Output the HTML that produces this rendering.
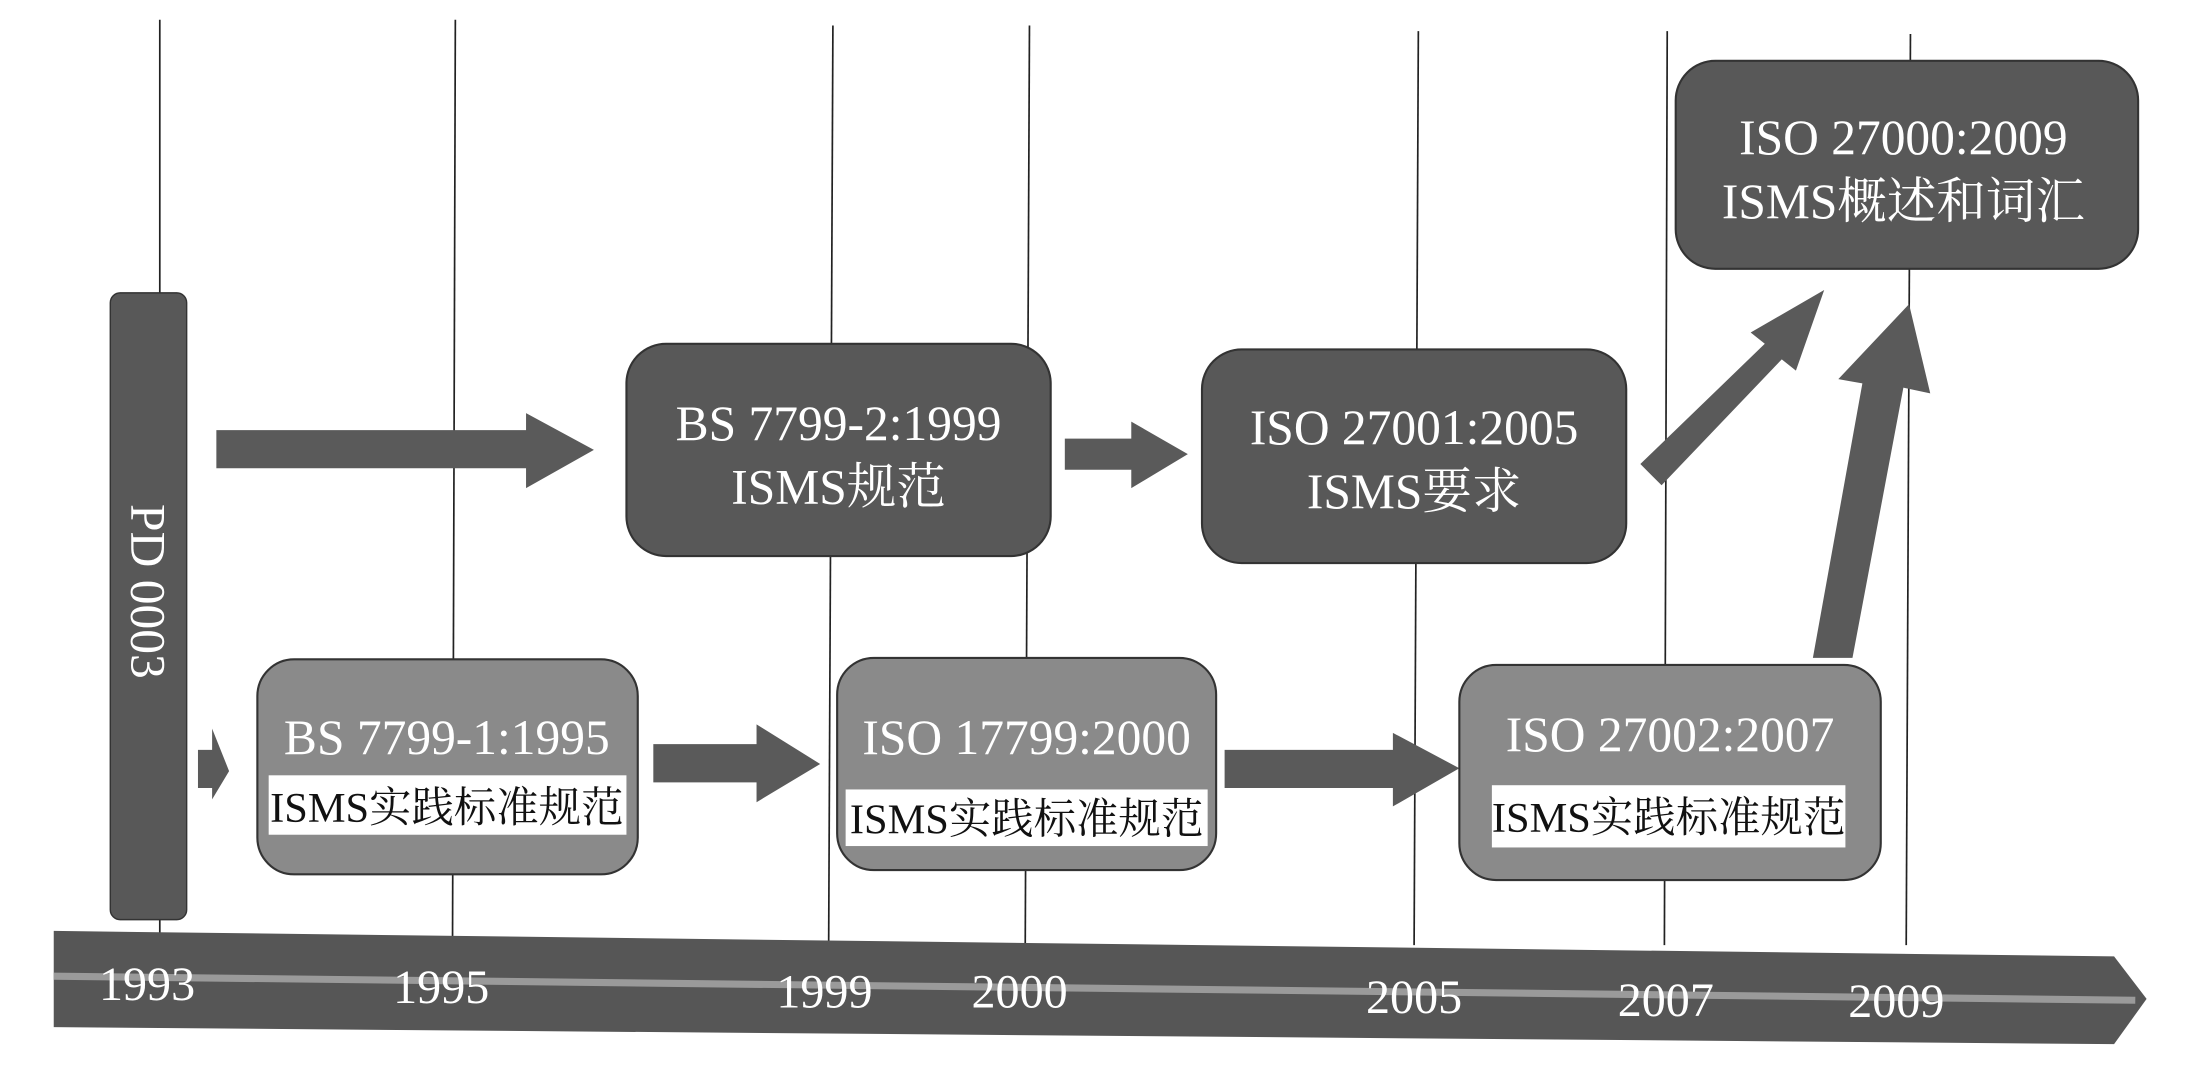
<!DOCTYPE html>
<html><head><meta charset="utf-8"><style>
html,body{margin:0;padding:0;background:#fff;width:2206px;height:1071px;overflow:hidden}
svg{display:block}
text{font-family:"Liberation Serif","Noto Serif CJK SC","Noto Sans CJK SC",serif}
</style></head><body>
<svg width="2206" height="1071" viewBox="0 0 1560 757" preserveAspectRatio="none">
<g stroke="#222" stroke-width="1.2">
<line x1="113" y1="14" x2="113" y2="668"/>
<line x1="322" y1="14" x2="320" y2="668"/>
<line x1="589" y1="18" x2="586" y2="668"/>
<line x1="728" y1="18" x2="725" y2="668"/>
<line x1="1003" y1="22" x2="1000" y2="668"/>
<line x1="1179" y1="22" x2="1177" y2="668"/>
<line x1="1351" y1="24" x2="1348" y2="668"/>
</g>
<!-- timeline -->
<polygon points="38,658 1495,676 1518,706 1495,738 38,726" fill="#565656"/>
<line x1="38" y1="690" x2="1510" y2="707" stroke="#9a9a9a" stroke-width="5"/>
<g fill="#fff" font-size="34" text-anchor="middle">
<text x="104" y="707">1993</text><text x="312" y="709">1995</text><text x="583" y="712">1999</text>
<text x="721" y="712">2000</text><text x="1000" y="716">2005</text><text x="1178" y="718">2007</text><text x="1341" y="719">2009</text>
</g>
<!-- PD bar -->
<rect x="78" y="207" width="54" height="443" rx="7" fill="#585858" stroke="#333"/>
<text transform="translate(93,418) rotate(90)" fill="#fff" font-size="35" text-anchor="middle">PD 0003</text>
<!-- arrows -->
<g fill="#5a5a5a">
<polygon points="153,304 372,304 372,292 420,318 372,345 372,331 153,331"/>
<polygon points="753,310 800,310 800,298 840,321 800,345 800,332 753,332"/>
<polygon points="140,530 150,530 150,515 162,545 150,565 150,557 140,557"/>
<polygon points="462,526 535,526 535,512 580,540 535,567 535,553 462,553"/>
<polygon points="866,530 985,530 985,518 1032,543 985,570 985,557 866,557"/>
<polygon points="1160,328 1248,243 1238,235 1290,205 1270,262 1260,254 1175,343"/>
<polygon points="1282,465 1317,271 1300,268 1350,215 1365,278 1346,274 1310,465"/>
</g>
<!-- dark boxes -->
<g fill="#585858" stroke="#333" stroke-width="1.5">
<rect x="443" y="243" width="300" height="150" rx="28"/>
<rect x="850" y="247" width="300" height="151" rx="28"/>
<rect x="1185" y="43" width="327" height="147" rx="28"/>
</g>
<g fill="#fff" font-size="35" text-anchor="middle">
<text x="593" y="311">BS 7799-2:1999</text><text x="593" y="356">ISMS规范</text>
<text x="1000" y="314">ISO 27001:2005</text><text x="1000" y="359">ISMS要求</text>
<text x="1346" y="109">ISO 27000:2009</text><text x="1346" y="154">ISMS概述和词汇</text>
</g>
<!-- light boxes -->
<g fill="#8a8a8a" stroke="#333" stroke-width="1.5">
<rect x="182" y="466" width="269" height="152" rx="26"/>
<rect x="592" y="465" width="268" height="150" rx="26"/>
<rect x="1032" y="470" width="298" height="152" rx="26"/>
</g>
<g fill="#fff">
<rect x="190" y="548" width="253" height="42"/>
<rect x="598" y="558" width="256" height="40"/>
<rect x="1055" y="555" width="250" height="44"/>
</g>
<g fill="#fff" font-size="35" text-anchor="middle">
<text x="316" y="533">BS 7799-1:1995</text>
<text x="726" y="533">ISO 17799:2000</text>
<text x="1181" y="531">ISO 27002:2007</text>
</g>
<g fill="#111" font-size="30" text-anchor="middle">
<text x="316" y="581">ISMS实践标准规范</text>
<text x="726" y="589">ISMS实践标准规范</text>
<text x="1180" y="588">ISMS实践标准规范</text>
</g>
</svg>
</body></html>
